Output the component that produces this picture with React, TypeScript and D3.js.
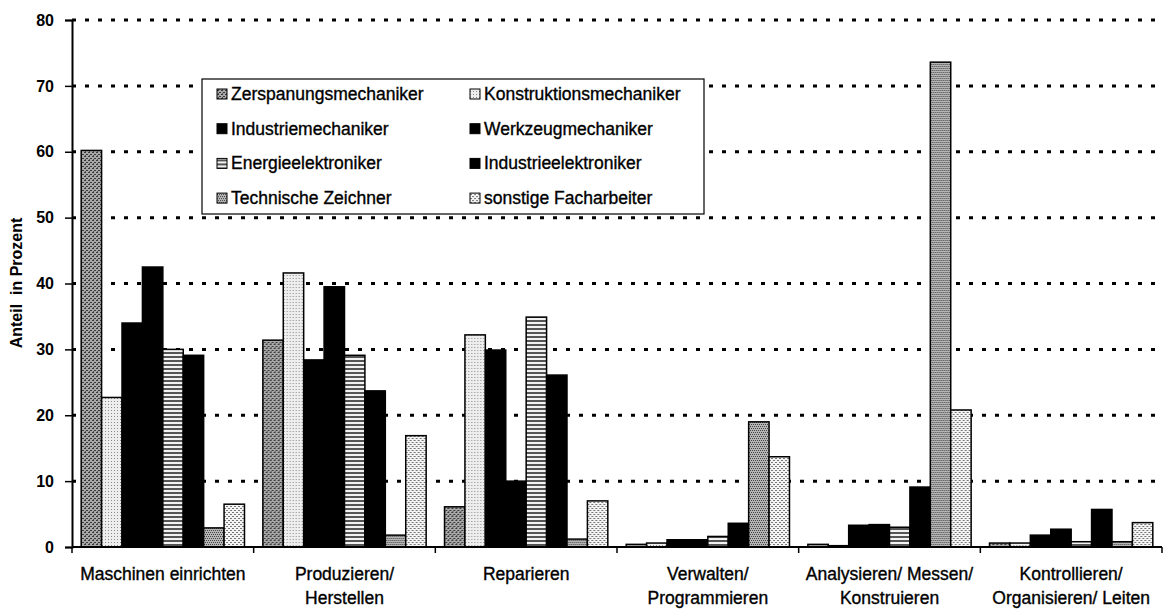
import React, { useEffect, useRef } from "react";
import * as d3 from "d3";

// Tätigkeitsbereiche (x-Achse), zweizeilig
const categories = [
  ["Maschinen einrichten"],
  ["Produzieren/", "Herstellen"],
  ["Reparieren"],
  ["Verwalten/", "Programmieren"],
  ["Analysieren/ Messen/", "Konstruieren"],
  ["Kontrollieren/", "Organisieren/ Leiten"],
];

const seriesNames = [
  "Zerspanungsmechaniker",
  "Konstruktionsmechaniker",
  "Industriemechaniker",
  "Werkzeugmechaniker",
  "Energieelektroniker",
  "Industrieelektroniker",
  "Technische Zeichner",
  "sonstige Facharbeiter",
];

// Anteil in Prozent je Beruf, in der Reihenfolge der Kategorien
const zerspanung = [60.2, 31.4, 6.1, 0.4, 0.4, 0.6];
const konstruktion = [22.7, 41.6, 32.2, 0.6, 0.2, 0.6];
const industriemech = [34.0, 28.4, 29.9, 1.1, 3.3, 1.8];
const werkzeug = [42.5, 39.5, 10.0, 1.1, 3.4, 2.7];
const energie = [30.0, 29.1, 34.9, 1.6, 3.0, 0.8];
const industrieelek = [29.1, 23.7, 26.1, 3.6, 9.1, 5.7];
const techZeichner = [2.9, 1.8, 1.2, 19.0, 73.6, 0.8];
const sonstige = [6.5, 16.9, 7.0, 13.7, 20.8, 3.7];

const seriesValues = [zerspanung, konstruktion, industriemech, werkzeug, energie, industrieelek, techZeichner, sonstige];
const yTicks = [0, 10, 20, 30, 40, 50, 60, 70, 80];

const fills = [
  "url(#pZersp)",
  "url(#pKonstr)",
  "#000",
  "#000",
  "url(#pEnergie)",
  "#000",
  "url(#pTZ)",
  "url(#pSonst)",
];

export default function App() {
  const svgRef = useRef<SVGSVGElement>(null);

  useEffect(() => {
    document.body.style.margin = "0";
    const W = 1175, H = 611;
    const margin = { top: 20, right: 13, bottom: 64, left: 72 };
    const width = W - margin.left - margin.right;
    const height = H - margin.top - margin.bottom;

    const root = d3.select(svgRef.current);
    root.selectAll("*").remove();
    root.attr("width", W).attr("height", H).style("font-family", "Arial, 'Liberation Sans', sans-serif");

    // Muster
    const defs = root.append("defs");
    const zp = defs.append("pattern").attr("id", "pZersp").attr("patternUnits", "userSpaceOnUse").attr("width", 4).attr("height", 4);
    zp.append("rect").attr("width", 4).attr("height", 4).attr("fill", "#a8a8a8");
    zp.append("rect").attr("x", 0).attr("y", 0).attr("width", 2).attr("height", 1).attr("fill", "#3a3a3a");
    zp.append("rect").attr("x", 2).attr("y", 2).attr("width", 2).attr("height", 1).attr("fill", "#3a3a3a");
    zp.append("rect").attr("x", 1).attr("y", 3).attr("width", 1).attr("height", 1).attr("fill", "#555");

    const kp = defs.append("pattern").attr("id", "pKonstr").attr("patternUnits", "userSpaceOnUse").attr("width", 3).attr("height", 3);
    kp.append("rect").attr("width", 3).attr("height", 3).attr("fill", "#eeeeee");
    kp.append("rect").attr("width", 1).attr("height", 1).attr("fill", "#8a8a8a");

    const ep = defs.append("pattern").attr("id", "pEnergie").attr("patternUnits", "userSpaceOnUse").attr("width", 4).attr("height", 4);
    ep.append("rect").attr("width", 4).attr("height", 4).attr("fill", "#f2f2f2");
    ep.append("rect").attr("y", 0).attr("width", 4).attr("height", 2).attr("fill", "#555");

    const tp = defs.append("pattern").attr("id", "pTZ").attr("patternUnits", "userSpaceOnUse").attr("width", 4).attr("height", 4);
    tp.append("rect").attr("width", 4).attr("height", 4).attr("fill", "#b5b5b5");
    tp.append("rect").attr("x", 0).attr("y", 0).attr("width", 1).attr("height", 1).attr("fill", "#444");
    tp.append("rect").attr("x", 2).attr("y", 0).attr("width", 1).attr("height", 1).attr("fill", "#444");
    tp.append("rect").attr("x", 1).attr("y", 2).attr("width", 1).attr("height", 1).attr("fill", "#444");
    tp.append("rect").attr("x", 3).attr("y", 2).attr("width", 1).attr("height", 1).attr("fill", "#444");

    const sp = defs.append("pattern").attr("id", "pSonst").attr("patternUnits", "userSpaceOnUse").attr("width", 4).attr("height", 4);
    sp.append("rect").attr("width", 4).attr("height", 4).attr("fill", "#f4f4f4");
    sp.append("rect").attr("x", 0).attr("y", 0).attr("width", 2).attr("height", 1).attr("fill", "#777");
    sp.append("rect").attr("x", 2).attr("y", 2).attr("width", 2).attr("height", 1).attr("fill", "#777");

    const svg = root.append("g").attr("transform", `translate(${margin.left},${margin.top})`);

    const x0 = d3.scaleBand().domain(categories.map((_, i) => String(i))).range([0, width]).paddingInner(0).paddingOuter(0);
    const x1 = d3.scaleBand().domain(seriesNames).range([0, x0.bandwidth()]).paddingInner(0).paddingOuter(0.45);
    const y = d3.scaleLinear().domain([0, 80]).range([height, 0]);

    // Gitterlinien
    svg.append("g")
      .selectAll("line")
      .data(yTicks.filter(t => t > 0))
      .enter()
      .append("line")
      .attr("x1", 0)
      .attr("x2", width)
      .attr("y1", d => y(d))
      .attr("y2", d => y(d))
      .attr("stroke", "#000")
      .attr("stroke-width", 3)
      .attr("stroke-dasharray", "4,9");

    // Balken
    const groups = svg.append("g")
      .selectAll("g")
      .data(categories.map((_, i) => i))
      .enter()
      .append("g")
      .attr("transform", i => `translate(${x0(String(i))},0)`);

    groups.selectAll("rect")
      .data(ci => seriesNames.map((name, si) => ({ name, si, value: seriesValues[si][ci] })))
      .enter()
      .append("rect")
      .attr("x", d => x1(d.name)!)
      .attr("width", x1.bandwidth())
      .attr("y", d => y(d.value))
      .attr("height", d => height - y(d.value))
      .attr("fill", d => fills[d.si])
      .attr("stroke", "#000")
      .attr("stroke-width", 1.5);

    // y-Achse
    const yAxis = d3.axisLeft(y).tickValues(yTicks).tickSize(7).tickPadding(11);
    const yg = svg.append("g").call(yAxis);
    yg.select(".domain").attr("stroke-width", 2);
    yg.selectAll(".tick line").attr("stroke-width", 1.5);
    yg.selectAll("text").style("font-size", "16px").style("font-weight", "bold").attr("fill", "#000");

    // x-Achse
    const xg = svg.append("g").attr("transform", `translate(0,${height})`);
    xg.append("line").attr("x1", 0).attr("x2", width).attr("stroke", "#000").attr("stroke-width", 2);
    xg.selectAll("line.tk")
      .data(d3.range(categories.length + 1))
      .enter()
      .append("line")
      .attr("class", "tk")
      .attr("x1", i => i * x0.step())
      .attr("x2", i => i * x0.step())
      .attr("y1", 0)
      .attr("y2", 6)
      .attr("stroke", "#000")
      .attr("stroke-width", 1.5);

    const labels = xg.selectAll("text")
      .data(categories)
      .enter()
      .append("text")
      .attr("text-anchor", "middle")
      .attr("transform", (_, i) => `translate(${x0(String(i))! + x0.bandwidth() / 2},0)`)
      .style("font-size", "17.5px")
      .attr("fill", "#000")
      .attr("stroke", "#000")
      .attr("stroke-width", 0.35);
    labels.selectAll("tspan")
      .data(d => d)
      .enter()
      .append("tspan")
      .attr("x", 0)
      .attr("y", (_, j) => 33 + j * 24)
      .text(d => d);

    root.append("text")
      .attr("transform", "rotate(-90)")
      .attr("x", -283)
      .attr("y", 22)
      .attr("text-anchor", "middle")
      .style("font-size", "16px")
      .style("font-weight", "bold")
      .style("white-space", "pre")
      .text("Anteil  in Prozent");

    // Legende
    const lg = root.append("g").attr("transform", "translate(202,79)");
    lg.append("rect")
      .attr("width", 502)
      .attr("height", 135)
      .attr("fill", "#fff")
      .attr("stroke", "#000")
      .attr("stroke-width", 1.2);
    const items = lg.selectAll("g.item")
      .data(seriesNames)
      .enter()
      .append("g")
      .attr("class", "item")
      .attr("transform", (_, i) => `translate(${i % 2 === 0 ? 15 : 268},${15 + Math.floor(i / 2) * 34.7})`);
    items.append("rect")
      .attr("x", 0)
      .attr("y", -5)
      .attr("width", 10)
      .attr("height", 10)
      .attr("fill", (_, i) => fills[i])
      .attr("stroke", "#000")
      .attr("stroke-width", 1);
    items.append("text")
      .attr("x", 14)
      .attr("y", 6)
      .style("font-size", "17.5px")
      .attr("fill", "#000")
      .attr("stroke", "#000")
      .attr("stroke-width", 0.35)
      .text(d => d);
  }, []);

  return <svg ref={svgRef}></svg>;
}
